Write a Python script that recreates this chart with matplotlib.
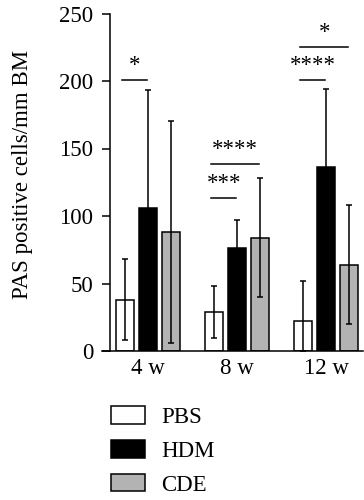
import matplotlib
matplotlib.use("Agg")
import matplotlib.pyplot as plt
from matplotlib.patches import Patch
import numpy as np

plt.rcParams['font.family'] = ['Liberation Serif', 'DejaVu Serif']

groups = ["4 w", "8 w", "12 w"]
series = ["PBS", "HDM", "CDE"]
means = {
    "PBS": [38, 29, 22],
    "HDM": [106, 76, 136],
    "CDE": [88, 84, 64],
}
sds = {
    "PBS": [30, 19, 30],
    "HDM": [87, 21, 58],
    "CDE": [82, 44, 44],
}
colors = {"PBS": "white", "HDM": "black", "CDE": "#b3b3b3"}
# significance annotations: (group index, series a, series b, y, label)
sig = [
    (0, "PBS", "HDM", 201, "*"),
    (1, "PBS", "HDM", 113, "***"),
    (1, "PBS", "CDE", 138.5, "****"),
    (2, "PBS", "HDM", 200.5, "****"),
    (2, "PBS", "CDE", 225, "*"),
]
yticks = [0, 50, 100, 150, 200, 250]

W, H = 364, 500
fig = plt.figure(figsize=(W / 100, H / 100), dpi=100)
left_px, right_px, top_px, bot_px = 102, 363, 13.5, 351
ax = fig.add_axes([left_px / W, 1 - bot_px / H, (right_px - left_px) / W, (bot_px - top_px) / H])

x = np.arange(len(groups))
offset = 0.26
width = 0.2
offs = {"PBS": -offset, "HDM": 0.0, "CDE": offset}
fs = 16.5
for s in series:
    m = np.array(means[s], float)
    sd = np.array(sds[s], float)
    lower = np.minimum(sd, m)
    ax.bar(x + offs[s], m, width, color=colors[s], edgecolor="black", linewidth=1.1, zorder=2)
    ax.errorbar(x + offs[s], m, yerr=[lower, sd], fmt="none", ecolor="black",
                elinewidth=1.1, capsize=2, capthick=1.1, zorder=3)

for gi, a, b, yv, lab in sig:
    x0 = gi + offs[a] - 0.03
    x1 = gi + offs[b] - 0.01
    ax.plot([x0, x1], [yv, yv], color="black", lw=1.1, clip_on=False)
    ax.text((x0 + x1) / 2, yv + 3, lab, ha="center", va="bottom", fontsize=fs)

xl = (left_px - 148) / 89
xr = (right_px - 148) / 89
ax.set_xlim(xl, xr)
ax.set_ylim(0, 250)
ax.spines["left"].set_position(("data", (110 - 148) / 89))
ax.spines["right"].set_visible(False)
ax.spines["top"].set_visible(False)
for sp in ["left", "bottom"]:
    ax.spines[sp].set_linewidth(1.1)
ax.set_yticks(yticks)
ax.set_xticks(x)
ax.set_xticklabels(groups)
ax.tick_params(axis="x", length=0, labelsize=fs, pad=5)
ax.tick_params(axis="y", length=6, width=1.1, labelsize=fs, pad=6)
ax.set_ylabel("PAS positive cells/mm BM", fontsize=fs)
ax.yaxis.set_label_coords((33 - 102) / 261, (351 - 174) / 337.5)

handles = [Patch(facecolor=colors[s], edgecolor="black", linewidth=1.1, label=s) for s in series]
fig.legend(handles=handles, loc="center left", bbox_to_anchor=(111 / W, 1 - 451 / H),
           frameon=False, fontsize=fs, handlelength=1.48, handleheight=0.8,
           handletextpad=0.7, labelspacing=0.52, borderpad=0, borderaxespad=0)

fig.savefig("out.png", dpi=100)
